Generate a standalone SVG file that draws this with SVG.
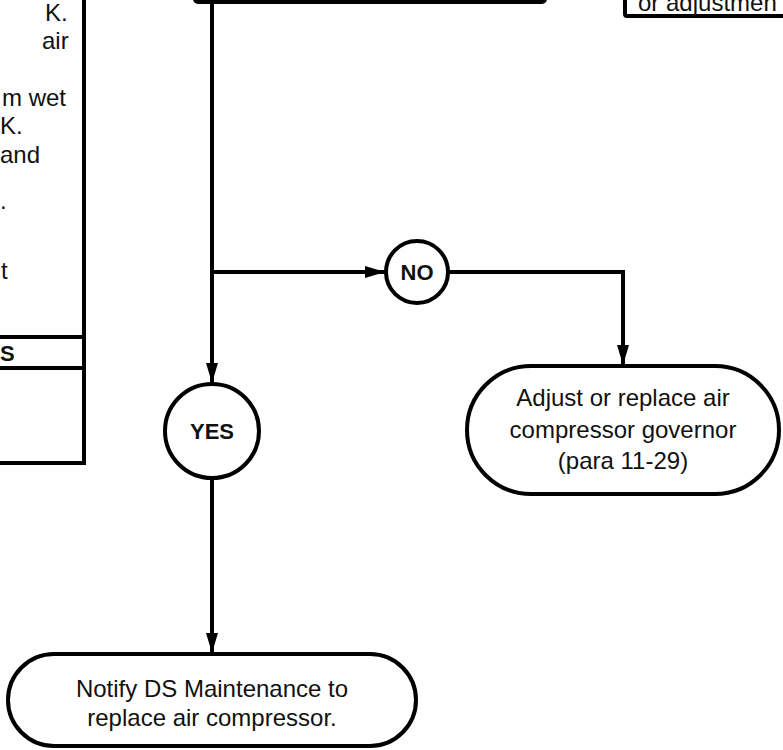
<svg xmlns="http://www.w3.org/2000/svg" width="783" height="750" viewBox="0 0 783 750">
  <defs>
    <marker id="arrow" viewBox="0 0 20 12" refX="20" refY="6" markerWidth="20" markerHeight="12" markerUnits="userSpaceOnUse" orient="auto">
      <path d="M0,0 L20,6 L0,12 Z" fill="#000"/>
    </marker>
  </defs>
  <style>
    .shape { fill: #fff; stroke: #000; stroke-width: 4; }
    .line { fill: none; stroke: #000; stroke-width: 4; }
    .txt { font-family: "Liberation Sans", Arial, sans-serif; font-size: 24px; fill: #111; }
    .ctr { text-anchor: middle; }
    .bold { font-weight: bold; font-size: 22px; }
  </style>
  <rect width="783" height="750" fill="#fff"/>

  <!-- left-hand panel -->
  <g id="side-panel">
    <rect class="shape" x="-20" y="-20" width="104" height="483"/>
    <line class="line" x1="-20" y1="337" x2="84" y2="337"/>
    <line class="line" x1="-20" y1="368" x2="84" y2="368"/>
    <text class="txt" x="45" y="21">K.</text>
    <text class="txt" x="42" y="49">air</text>
    <text class="txt" x="2" y="106">m wet</text>
    <text class="txt" x="0" y="134">K.</text>
    <text class="txt" x="0" y="163">and</text>
    <text class="txt" x="0" y="209">.</text>
    <text class="txt" x="1" y="279">t</text>
    <text class="txt bold" x="0" y="361">S</text>
  </g>

  <!-- step box at the top -->
  <g id="step-top">
    <rect class="shape" x="195" y="-60" width="350" height="62" rx="3"/>
  </g>

  <!-- note box, top right -->
  <g id="note-top-right">
    <rect class="shape" x="625" y="-60" width="200" height="76" rx="2"/>
    <text class="txt" x="638" y="11">or adjustmen</text>
  </g>

  <!-- decision outcomes -->
  <g id="no">
    <circle class="shape" cx="417" cy="272" r="31"/>
    <text class="txt ctr bold" x="417" y="280">NO</text>
  </g>
  <g id="yes">
    <circle class="shape" cx="212" cy="431" r="47"/>
    <text class="txt ctr bold" x="212" y="439">YES</text>
  </g>

  <!-- actions -->
  <g id="adjust-governor">
    <rect class="shape" x="467" y="366" width="312" height="128" rx="64"/>
    <text class="txt ctr" x="623" y="406">Adjust or replace air</text>
    <text class="txt ctr" x="623" y="438">compressor governor</text>
    <text class="txt ctr" x="623" y="469">(para 11-29)</text>
  </g>
  <g id="notify-ds">
    <rect class="shape" x="8" y="654" width="408" height="92" rx="46"/>
    <text class="txt ctr" x="212" y="697">Notify DS Maintenance to</text>
    <text class="txt ctr" x="212" y="726">replace air compressor.</text>
  </g>

  <!-- connectors -->
  <g id="connectors">
    <path class="line" d="M212,2 V383" marker-end="url(#arrow)"/>
    <path class="line" d="M212,272 H385" marker-end="url(#arrow)"/>
    <path class="line" d="M449,272 H623 V365" marker-end="url(#arrow)"/>
    <path class="line" d="M212,478 V653" marker-end="url(#arrow)"/>
  </g>
</svg>
